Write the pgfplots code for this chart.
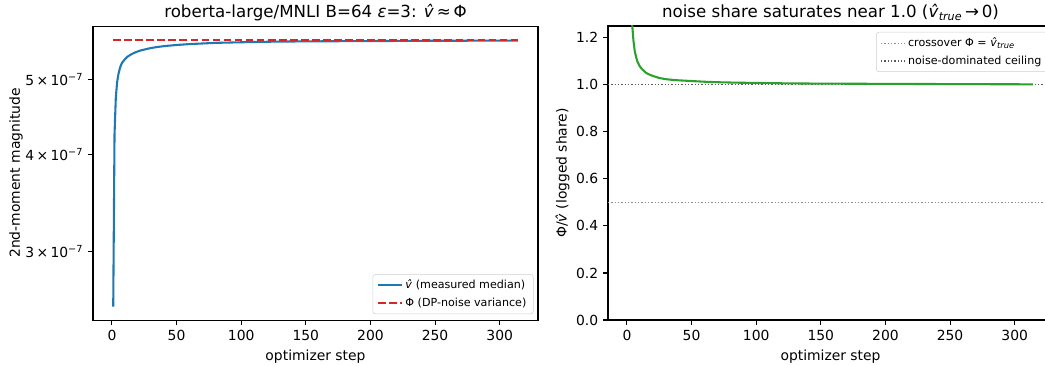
\documentclass[border=0pt]{standalone}
\usepackage{fontspec}
\setmainfont{DejaVu Sans}
\usepackage{pgfplots}
\pgfplotsset{compat=1.18}

\definecolor{mplblue}{HTML}{1F77B4}
\definecolor{mplred}{HTML}{D62728}
\definecolor{mplgreen}{HTML}{2CA02C}

\pgfplotstableread{
x y
1 2.55e-7
2 4.25e-7
3 4.74e-7
4 4.96e-7
5 5.08e-7
6 5.16e-7
7 5.22e-7
8 5.26e-7
10 5.31e-7
12 5.35e-7
15 5.39e-7
18 5.42e-7
22 5.45e-7
26 5.47e-7
30 5.49e-7
36 5.51e-7
42 5.525e-7
50 5.54e-7
60 5.555e-7
70 5.565e-7
80 5.575e-7
100 5.585e-7
125 5.595e-7
150 5.60e-7
200 5.605e-7
250 5.61e-7
314 5.612e-7
}\vhat

\pgfplotstableread{
x y
1 2.20
2 1.70
3 1.42
4 1.26
5 1.19
6 1.145
7 1.12
8 1.10
10 1.078
12 1.065
15 1.05
18 1.042
21 1.036
25 1.029
30 1.024
35 1.021
40 1.019
50 1.016
60 1.013
70 1.011
85 1.009
100 1.008
125 1.006
150 1.005
200 1.004
250 1.003
314 1.002
}\share

\pgfplotsset{
  myax/.style={
    scale only axis, width=320.4pt, height=211.68pt,
    xmin=-14.65, xmax=329.65,
    xtick={0,50,...,300},
    xtick pos=bottom, ytick pos=left,
    tick align=outside, major tick length=3.5pt,
    tick style={black, line width=0.8pt},
    axis line style={line width=0.8pt},
    tick label style={font=\fontsize{10}{12}\selectfont},
    label style={font=\fontsize{10}{12}\selectfont},
    title style={font=\fontsize{12}{14}\selectfont, anchor=base},
    xlabel={optimizer step},
    /pgf/number format/assume math mode=true,
    legend style={font=\fontsize{8}{10}\selectfont, draw=black!18, rounded corners=2pt,
      fill=white, fill opacity=0.8, text opacity=1, inner xsep=3pt, inner ysep=2pt,
      row sep=1pt},
    legend cell align=left,
    legend image code/.code={\draw[#1] (0pt,0pt) -- (17pt,0pt);},
  }
}

\begin{document}
\begin{tikzpicture}
\begin{axis}[myax,
  at={(66.96pt,32.4pt)}, anchor=south west,
  ymode=log, ymin=2.45e-7, ymax=5.86e-7,
  ytick={3e-7,4e-7,5e-7},
  yticklabels={{3\,×\,10\textsuperscript{−7}},{4\,×\,10\textsuperscript{−7}},{5\,×\,10\textsuperscript{−7}}},
  yminorticks=false,
  ylabel={2nd-moment magnitude},
  ylabel style={yshift=-5pt},
  title={roberta-large/MNLI B=64 \textit{ε}=3: \textit{\^{v}}\,≈\,Φ},
  legend style={at={(0.99,0.02)}, anchor=south east},
]
\addplot[mplblue, line width=1.5pt] table[x=x,y=y] {\vhat};
\addlegendentry{\textit{\^{v}} (measured median)}
\addplot[mplred, line width=1.5pt, dash pattern=on 5.55pt off 2.4pt] coordinates {(1,5.625e-7) (314,5.625e-7)};
\addlegendentry{Φ (DP-noise variance)}
\end{axis}

\begin{axis}[myax,
  at={(437.76pt,32.4pt)}, anchor=south west,
  ymin=0, ymax=1.25,
  ytick={0,0.2,0.4,0.6,0.8,1.0,1.2},
  yticklabel style={/pgf/number format/.cd, fixed, fixed zerofill, precision=1},
  ylabel={Φ/\textit{\^{v}} (logged share)},
  ylabel style={yshift=-2pt},
  title={noise share saturates near 1.0 (\textit{\^{v}}\textsubscript{\textit{true}}\,→\,0)},
  legend style={at={(0.99,0.98)}, anchor=north east},
]
\addplot[black!45, line width=0.9pt, dash pattern=on 0.9pt off 1.5pt] coordinates {(-14.65,0.5) (329.65,0.5)};
\addlegendentry{crossover Φ = \textit{\^{v}}\textsubscript{\textit{true}}}
\addplot[black!65, line width=0.9pt, dash pattern=on 0.9pt off 1.5pt] coordinates {(-14.65,1.0) (329.65,1.0)};
\addlegendentry{noise-dominated ceiling}
\addplot[mplgreen, line width=1.5pt, forget plot] table[x=x,y=y] {\share};
\end{axis}
\pgfresetboundingbox
\useasboundingbox (0,0) rectangle (752.4pt,262.8pt);
\end{tikzpicture}
\end{document}
